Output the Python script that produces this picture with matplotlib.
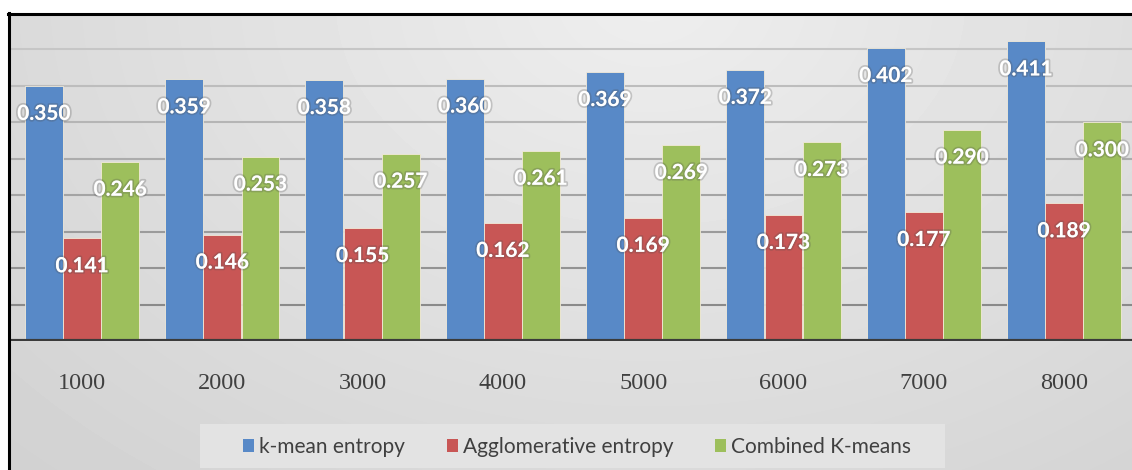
import numpy as np
import matplotlib
matplotlib.use("Agg")
import matplotlib.pyplot as plt
from matplotlib import patheffects
from matplotlib.lines import Line2D
from matplotlib.patches import Rectangle

# ---- data ----
categories = ["1000", "2000", "3000", "4000", "5000", "6000", "7000", "8000"]
kmean_entropy = [0.350, 0.359, 0.358, 0.360, 0.369, 0.372, 0.402, 0.411]
agglomerative_entropy = [0.141, 0.146, 0.155, 0.162, 0.169, 0.173, 0.177, 0.189]
combined_kmeans = [0.246, 0.253, 0.257, 0.261, 0.269, 0.273, 0.290, 0.300]
series_names = ["k-mean entropy", "Agglomerative entropy", "Combined K-means"]

series = [kmean_entropy, agglomerative_entropy, combined_kmeans]
colors = ["#5889c7", "#c85655", "#9dbf5c"]

W, H = 1132, 470
fig = plt.figure(figsize=(W / 100, H / 100), dpi=100)
fig.patch.set_facecolor("white")

# ---- soft grey gradient behind the chart area ----
x0, y0 = 10, 15
bg = fig.add_axes([x0 / W, 0, (W - x0) / W, (H - y0) / H])
yy, xx = np.mgrid[0:H - y0, 0:W - x0]
X = xx + x0
Y = yy + y0
r = np.sqrt(((X - 650) / 700.0) ** 2 + (Y / 500.0) ** 2)
shade = np.clip(238 - 22 * r, 200, 245) / 255.0
bg.imshow(shade, cmap="gray", vmin=0, vmax=1, aspect="auto", interpolation="bilinear")
bg.axis("off")

# ---- plot area ----
px_per_unit = 140.3
first_center_px = 82
ax_left_px = 10
base_px = 341
top_px = 13
ax = fig.add_axes([ax_left_px / W, (H - base_px) / H, (W - ax_left_px) / W, (base_px - top_px) / H])
ax.set_facecolor("none")
xmin = -(first_center_px - ax_left_px) / px_per_unit
ax.set_xlim(xmin, xmin + (W - ax_left_px) / px_per_unit)
ax.set_ylim(0, 0.45)

x = np.arange(len(categories))
bar_w = 0.27
offsets = [-0.272, 0.0, 0.272]

yticks = np.round(np.arange(0.05, 0.401, 0.05), 2)
ax.set_yticks(yticks)
ax.tick_params(axis="y", length=0, labelleft=False)
ax.yaxis.grid(True, linewidth=1.5)
ax.set_axisbelow(True)
for i, gl in enumerate(ax.get_ygridlines()):
    t = i / (len(yticks) - 1)
    g = 0x8a + t * (0xc6 - 0x8a)
    gl.set_color((g / 255, g / 255, g / 255))

for vals, col, off in zip(series, colors, offsets):
    ax.bar(x + off, vals, width=bar_w, color=col, edgecolor="#f2ead8",
           linewidth=0.6, zorder=2)

label_fx = [patheffects.withStroke(linewidth=2.5, foreground=(0.3, 0.3, 0.3, 0.25))]
for vals, off in zip(series, offsets):
    for xi, v in zip(x, vals):
        ax.annotate(f"{v:.3f}", (xi + off, v), xytext=(0, -28),
                    textcoords="offset pixels", ha="center", va="center",
                    color="white", fontweight="bold", fontsize=15,
                    family="Lato", path_effects=label_fx, zorder=4)

ax.axhline(0, color="#3b3b3b", linewidth=3, zorder=3)

ax.set_xticks(x)
ax.set_xticklabels(categories, fontfamily="Liberation Serif", fontsize=17.5,
                   color="#404040")
ax.tick_params(axis="x", length=0, pad=23)
for s in ax.spines.values():
    s.set_visible(False)

# ---- legend ----
fig.patches.append(Rectangle((200 / W, (H - 468) / H), (945 - 200) / W, 44 / H,
                             transform=fig.transFigure, facecolor="#e3e3e3",
                             edgecolor="none", zorder=1))
handles = [Rectangle((0, 0), 1, 1, facecolor=c, edgecolor="none") for c in colors]
fig.legend(handles, series_names, loc="center",
           bbox_to_anchor=(577 / W, (H - 447) / H), ncol=3, frameon=False,
           prop={"family": "Lato", "size": 15}, labelcolor="#404040",
           handlelength=0.53, handleheight=0.58, handletextpad=0.24,
           columnspacing=2.0)

# ---- chart border (left and top edges) ----
fig.add_artist(Line2D([9 / W, 9 / W], [0, (H - 13) / H], color="black",
                      linewidth=2.2, transform=fig.transFigure))
fig.add_artist(Line2D([8 / W, 1], [(H - 14) / H, (H - 14) / H], color="black",
                      linewidth=2.2, transform=fig.transFigure))

fig.savefig("out.png", dpi=100)
